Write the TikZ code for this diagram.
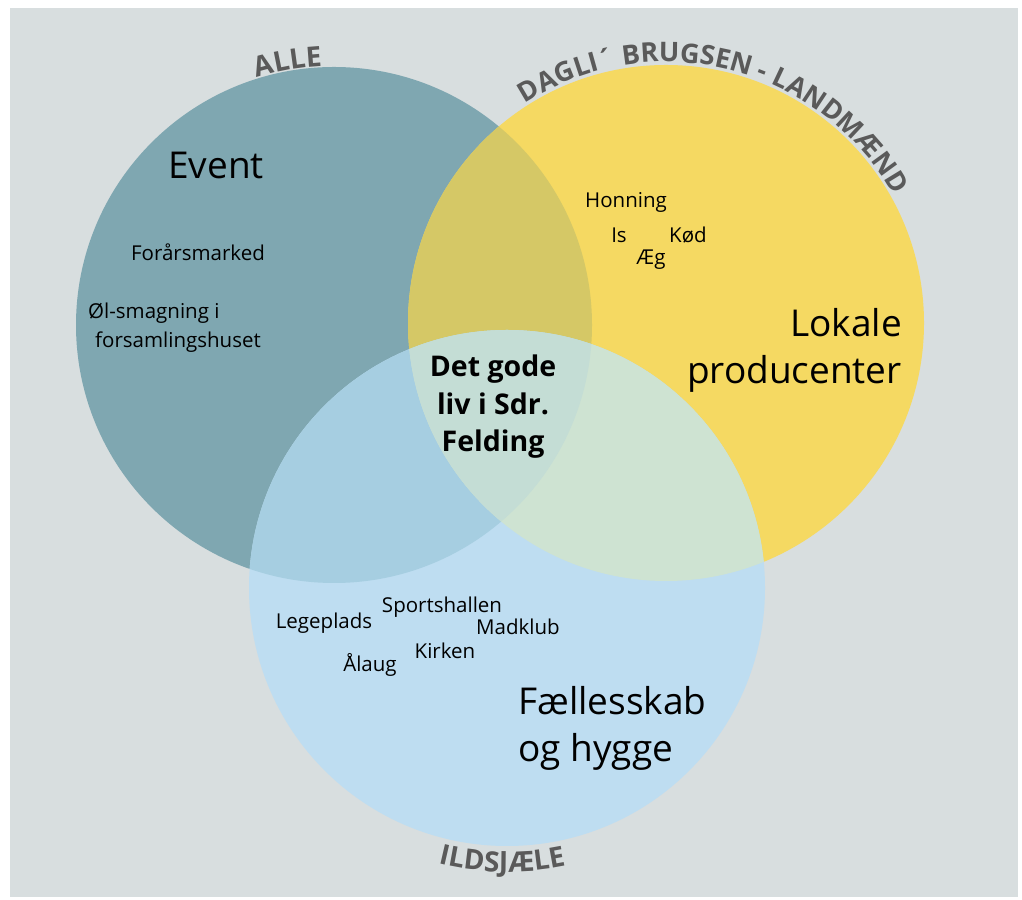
\documentclass[tikz,border=0pt]{standalone}
\usepackage{fontspec}
\setmainfont{Open Sans}
\usetikzlibrary{decorations.text}
\definecolor{bgc}{HTML}{D8DEDF}
\definecolor{colA}{HTML}{7FA7B1}
\definecolor{colB}{HTML}{F5D962}
\definecolor{colC}{HTML}{BEDDF1}
\definecolor{colAB}{HTML}{D5C866}
\definecolor{colAC}{HTML}{A6CEE1}
\definecolor{colBC}{HTML}{CEE3D2}
\definecolor{colABC}{HTML}{C4DDD5}
\definecolor{lblgray}{HTML}{5A5A5A}
\newcommand\arcfont{\fontsize{28}{32}\selectfont\bfseries}
\newcommand\arcfontsm{\fontsize{27}{32}\selectfont\bfseries}
\begin{document}
\begin{tikzpicture}[x=1pt,y=1pt,
  hand/.style={font=\fontsize{20.5}{24}\selectfont, text=black, inner sep=0pt},
  big/.style={font=\fontsize{37}{47}\selectfont, text=black, inner sep=0pt},
  mid/.style={font=\fontsize{28.5}{37.5}\selectfont\bfseries, text=black, inner sep=0pt, align=center},
  arcl/.style={decorate, decoration={text along path, text align=center, text color=lblgray, text={|\arcfont|#1}}},
  arcs/.style={decorate, decoration={text along path, text align=center, text color=lblgray, text={|\arcfontsm|#1}}}]
\useasboundingbox (0,0) rectangle (1022,899);
\fill[bgc] (10,2) rectangle (1018,891);
\coordinate (cA) at (334,574);
\coordinate (cB) at (666,576);
\coordinate (cC) at (507,311);
\def\R{258}
\fill[colA] (cA) circle[radius=\R];
\fill[colB] (cB) circle[radius=\R];
\fill[colC] (cC) circle[radius=\R];
\begin{scope}\clip (cA) circle[radius=\R]; \fill[colAB] (cB) circle[radius=\R]; \end{scope}
\begin{scope}\clip (cA) circle[radius=\R]; \fill[colAC] (cC) circle[radius=\R]; \end{scope}
\begin{scope}\clip (cB) circle[radius=\R]; \fill[colBC] (cC) circle[radius=\R]; \end{scope}
\begin{scope}\clip (cA) circle[radius=\R]; \clip (cB) circle[radius=\R]; \fill[colABC] (cC) circle[radius=\R]; \end{scope}

\path[arcl={ALLE}] (cA) ++(140:259) arc[start angle=140, end angle=60, radius=259];
\path[arcs={DAGLI´ BRUGSEN - LANDMÆND}] (cB) ++(160:261) arc[start angle=160, end angle=-8, radius=261];
\path[arcl={ILDSJÆLE}] (cC) ++(219:284) arc[start angle=219, end angle=319, radius=284];

\node[big] (event) at (216,734) {Event};
\node[big, align=right, anchor=east] (lokale) at (902,549) {Lokale\\producenter};
\node[big, align=left, anchor=west] (faelles) at (518,171) {Fællesskab\\og hygge};
\node[mid] (center) at (493,492) {Det gode\\liv i Sdr.\\Felding};

\node[hand] (forar) at (198,647) {Forårsmarked};
\node[hand, anchor=west] (ol) at (88,586) {Øl-smagning i};
\node[hand, anchor=west] (forsam) at (95,557) {forsamlingshuset};
\node[hand] (honning) at (626,697) {Honning};
\node[hand] (is) at (619,664) {Is};
\node[hand] (kod) at (688,664) {Kød};
\node[hand] (aeg) at (651,639) {Æg};
\node[hand] (lege) at (324,276) {Legeplads};
\node[hand] (sports) at (442,292) {Sportshallen};
\node[hand] (mad) at (518,272) {Madklub};
\node[hand] (kirken) at (445,248) {Kirken};
\node[hand] (alaug) at (370,234) {Ålaug};
\end{tikzpicture}
\end{document}
